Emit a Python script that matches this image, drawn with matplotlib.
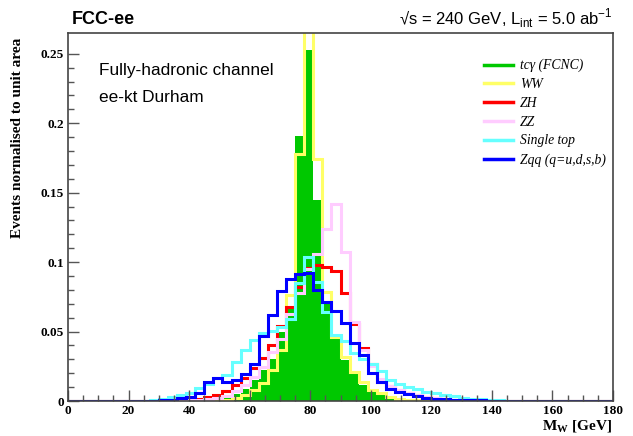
import matplotlib
matplotlib.use("Agg")
import matplotlib.pyplot as plt
from matplotlib.lines import Line2D
import numpy as np

plt.rcParams['mathtext.fontset'] = 'custom'
plt.rcParams['mathtext.rm'] = 'Liberation Sans'
plt.rcParams['mathtext.bf'] = 'Liberation Serif:bold'

# binning: 60 bins of 3 GeV from 0 to 180
edges = np.arange(0, 181, 3)
first_bin = 8  # values below start at bin 8 (24 GeV); everything else is zero


def fill(vals):
    h = np.zeros(60)
    h[first_bin:first_bin + len(vals)] = vals
    return h


# normalised histograms, bins 24..147 GeV
tcg = fill([0, 0, 0, 0, 0, 0, 0, 0, 0.001, 0.003, 0.005, 0.009, 0.015, 0.022, 0.03, 0.05,
            0.067, 0.191, 0.253, 0.145, 0.07, 0.046, 0.0295, 0.02, 0.0115, 0.0067, 0.0043,
            0.003, 0.0017, 0.001, 0.0006, 0.0004, 0.0002, 0, 0, 0, 0, 0, 0, 0, 0])
ww = fill([0, 0, 0, 0, 0, 0, 0, 0.0003, 0.0005, 0.001, 0.0019, 0.0043, 0.0079, 0.0127, 0.0223,
           0.0367, 0.076, 0.178, 0.28, 0.174, 0.0787, 0.046, 0.0319, 0.0211, 0.0139, 0.0082,
           0.0055, 0.0027, 0.0014, 0.0008, 0.0005, 0.0003, 0, 0, 0, 0, 0, 0, 0, 0])
zh = fill([0, 0, 0.0003, 0.0005, 0.0008, 0.001, 0.0015, 0.003, 0.0043, 0.0074, 0.0115, 0.0163,
           0.0235, 0.0307, 0.0403, 0.0537, 0.0678, 0.0818, 0.0955, 0.0978, 0.0963, 0.0937,
           0.0775, 0.0554, 0.0379, 0.0266, 0.0139, 0.0105, 0.0082, 0.0059, 0.0043, 0.0027,
           0.002, 0.0015, 0.001, 0.0008, 0.0006, 0.0004, 0.0003, 0, 0])
zz = fill([0, 0, 0, 0, 0.0003, 0.0005, 0.001, 0.0015, 0.002, 0.0034, 0.007, 0.0115, 0.0175,
           0.0247, 0.0355, 0.045, 0.063, 0.078, 0.095, 0.106, 0.1235, 0.142, 0.107, 0.057,
           0.037, 0.025, 0.016, 0.011, 0.008, 0.006, 0.004, 0.003, 0.002, 0.0015, 0.001,
           0.0005, 0, 0, 0, 0, 0])
stop = fill([0.0003, 0.001, 0.0015, 0.003, 0.0045, 0.0055, 0.0095, 0.0125, 0.0165, 0.0185,
             0.028, 0.037, 0.044, 0.0487, 0.0505, 0.053, 0.059, 0.085, 0.104, 0.086, 0.064,
             0.0475, 0.043, 0.0348, 0.0299, 0.0266, 0.0218, 0.015, 0.0122, 0.0098, 0.0084,
             0.0067, 0.0055, 0.0043, 0.0036, 0.0024, 0.0017, 0.0012, 0.001, 0.0005, 0])
zqq = fill([0, 0.0003, 0.0005, 0.001, 0.002, 0.003, 0.0055, 0.0139, 0.0163, 0.0139, 0.015,
            0.0194, 0.027, 0.0468, 0.0619, 0.0794, 0.0878, 0.0914, 0.0923, 0.080, 0.0714,
            0.065, 0.0564, 0.042, 0.033, 0.020, 0.014, 0.009, 0.0065, 0.005, 0.0035, 0.0025,
            0.0018, 0.0013, 0.001, 0.0008, 0.0006, 0.0004, 0.0003, 0.0002, 0])

labels = ['tcγ (FCNC)', 'WW', 'ZH', 'ZZ', 'Single top', 'Zqq (q=u,d,s,b)']
colors = ['#00c800', '#ffff66', '#ff0000', '#ffccff', '#66ffff', '#0000ff']

fig = plt.figure(figsize=(6.33, 4.36), dpi=100)
ax = fig.add_axes([68 / 633, 1 - 401 / 436, 545 / 633, 368 / 436])

ax.stairs(tcg, edges, fill=True, color=colors[0], lw=0)
for h, c in zip([ww, zh, zz, stop, zqq], colors[1:]):
    ax.stairs(h, edges, color=c, lw=2.2)

ax.set_xlim(0, 180)
ax.set_ylim(0, 0.265)
ax.set_xticks(np.arange(0, 181, 20))
ax.set_xticks(np.arange(0, 181, 5), minor=True)
ax.set_yticks([0, 0.05, 0.1, 0.15, 0.2, 0.25])
ax.set_yticklabels(['0', '0.05', '0.1', '0.15', '0.2', '0.25'])
ax.set_yticks(np.arange(0, 0.26, 0.01), minor=True)
ax.tick_params(direction='in', which='major', length=8, width=1, color='#555555', pad=3)
ax.tick_params(direction='in', which='minor', length=4, width=1, color='#555555')
for lab in ax.get_xticklabels() + ax.get_yticklabels():
    lab.set_fontfamily('Liberation Serif')
    lab.set_fontweight('bold')
    lab.set_fontsize(9.5)
for s in ax.spines.values():
    s.set_color('#444444')
    s.set_linewidth(1.2)

fig.text(18 / 633, 1 - 38 / 436, 'Events normalised to unit area', rotation=90,
         ha='center', va='top', family='Liberation Serif', weight='bold', fontsize=11)
fig.text(612 / 633, 1 - 429 / 436, r'$\mathbf{M_{W}}$ [GeV]', ha='right', va='baseline',
         family='Liberation Serif', weight='bold', fontsize=11)

fig.text(72 / 633, 1 - 24 / 436, 'FCC-ee', family='Liberation Sans', weight='bold',
         fontsize=13, va='baseline')
fig.text(612 / 633, 1 - 24 / 436, '√s = 240 GeV, L$_{\\mathrm{int}}$ = 5.0 ab$^{-1}$',
         family='Liberation Sans', fontsize=12, ha='right', va='baseline')

fig.text(99 / 633, 1 - 75 / 436, 'Fully-hadronic channel', family='Liberation Sans',
         fontsize=12.4, va='baseline')
fig.text(99 / 633, 1 - 102 / 436, 'ee-kt Durham', family='Liberation Sans',
         fontsize=12.4, va='baseline')

handles = [Line2D([], [], color=c, lw=2.5) for c in colors]
leg = fig.legend(handles, labels, loc='upper left', bbox_to_anchor=(484 / 633, 1 - 59 / 436),
                 frameon=False, prop={'family': 'Liberation Serif', 'style': 'italic', 'size': 9.8},
                 handlelength=2.1, handletextpad=0.55, labelspacing=0.42, borderpad=0,
                 borderaxespad=0)

fig.savefig('out.png', dpi=100)
